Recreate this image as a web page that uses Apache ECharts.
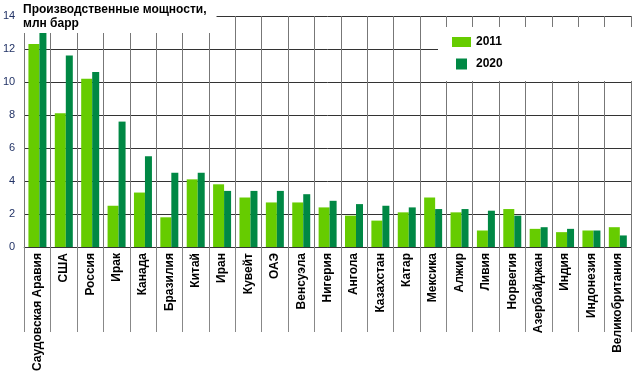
<!DOCTYPE html>
<html lang="ru">
  <head>
    <meta charset="UTF-8" />
    <title>capacity</title>
    <script src="https://cdn.jsdelivr.net/npm/echarts@6/dist/echarts.min.js"></script>
    <style>
      html, body { margin: 0; padding: 0; background: #fff; }
      #chart { width: 636px; height: 378px; }
    </style>
  </head>
  <body>
    <div id="chart"></div>
    <script>
      var countries = ['Саудовская Аравия', 'США', 'Россия', 'Ирак', 'Канада', 'Бразилия', 'Китай', 'Иран', 'Кувейт', 'ОАЭ', 'Венсуэла', 'Нигерия', 'Ангола', 'Казахстан', 'Катар', 'Мексика', 'Алжир', 'Ливия', 'Норвегия', 'Азербайджан', 'Индия', 'Индонезия', 'Великобритания'];
      var values2011 = [12.3, 8.1, 10.2, 2.5, 3.3, 1.8, 4.1, 3.8, 3.0, 2.7, 2.7, 2.4, 1.9, 1.6, 2.1, 3.0, 2.1, 1.0, 2.3, 1.1, 0.9, 1.0, 1.2];
      var values2020 = [13.2, 11.6, 10.6, 7.6, 5.5, 4.5, 4.5, 3.4, 3.4, 3.4, 3.2, 2.8, 2.6, 2.5, 2.4, 2.3, 2.3, 2.2, 1.9, 1.2, 1.1, 1.0, 0.7];
      var yTicks = [0, 2, 4, 6, 8, 10, 12, 14];

      var chartDom = document.getElementById('chart');
      var myChart = echarts.init(chartDom);

      var option = {
        animation: false,
        title: {
          text: 'Производственные мощности,\nмлн барр',
          left: 23,
          top: 0,
          padding: [3, 10, 2, 0],
          backgroundColor: '#fff',
          textStyle: {
            fontFamily: 'Liberation Sans',
            fontSize: 12,
            fontWeight: 'bold',
            color: '#000',
            lineHeight: 14
          }
        },
        graphic: [
          {
            type: 'rect',
            z: 3,
            shape: { x: 438, y: 27, width: 198, height: 54 },
            style: { fill: '#fff' }
          }
        ],
        legend: [
          {
            data: ['2011'],
            left: 452,
            top: 36,
            padding: 0,
            z: 5,
            itemWidth: 19,
            itemHeight: 10,
            icon: 'rect',
            selectedMode: false,
            textStyle: { fontFamily: 'Liberation Sans', fontSize: 12, fontWeight: 'bold', color: '#000' }
          },
          {
            data: ['2020'],
            left: 456,
            top: 58,
            padding: 0,
            z: 5,
            itemWidth: 11,
            itemHeight: 11,
            icon: 'rect',
            selectedMode: false,
            textStyle: { fontFamily: 'Liberation Sans', fontSize: 12, fontWeight: 'bold', color: '#000', padding: [0, 0, 0, 4] }
          }
        ],
        grid: {
          left: 24,
          right: 5,
          top: 16,
          bottom: 131
        },
        xAxis: {
          type: 'category',
          data: countries,
          axisLine: { lineStyle: { color: '#333' } },
          axisTick: { show: true, interval: 0, length: 85, lineStyle: { color: '#888' } },
          splitLine: { show: true, interval: 0, lineStyle: { color: '#777' } },
          axisLabel: {
            interval: 0,
            rotate: 90,
            margin: 6,
            fontFamily: 'Liberation Sans',
            fontSize: 12,
            fontWeight: 'bold',
            color: '#000'
          }
        },
        yAxis: {
          type: 'value',
          min: yTicks[0],
          max: yTicks[yTicks.length - 1],
          interval: 2,
          axisLine: { show: false },
          axisTick: { show: false },
          splitLine: { lineStyle: { color: '#333' } },
          axisLabel: {
            margin: 9,
            fontFamily: 'Liberation Sans',
            fontSize: 11,
            color: '#223366'
          }
        },
        series: [
          {
            name: '2011',
            type: 'bar',
            barWidth: 11,
            barGap: '0%',
            itemStyle: { color: '#66cc00' },
            data: values2011
          },
          {
            name: '2020',
            type: 'bar',
            barWidth: 7,
            barGap: '0%',
            itemStyle: { color: '#008844' },
            data: values2020
          }
        ]
      };

      myChart.setOption(option);
    </script>
  </body>
</html>
